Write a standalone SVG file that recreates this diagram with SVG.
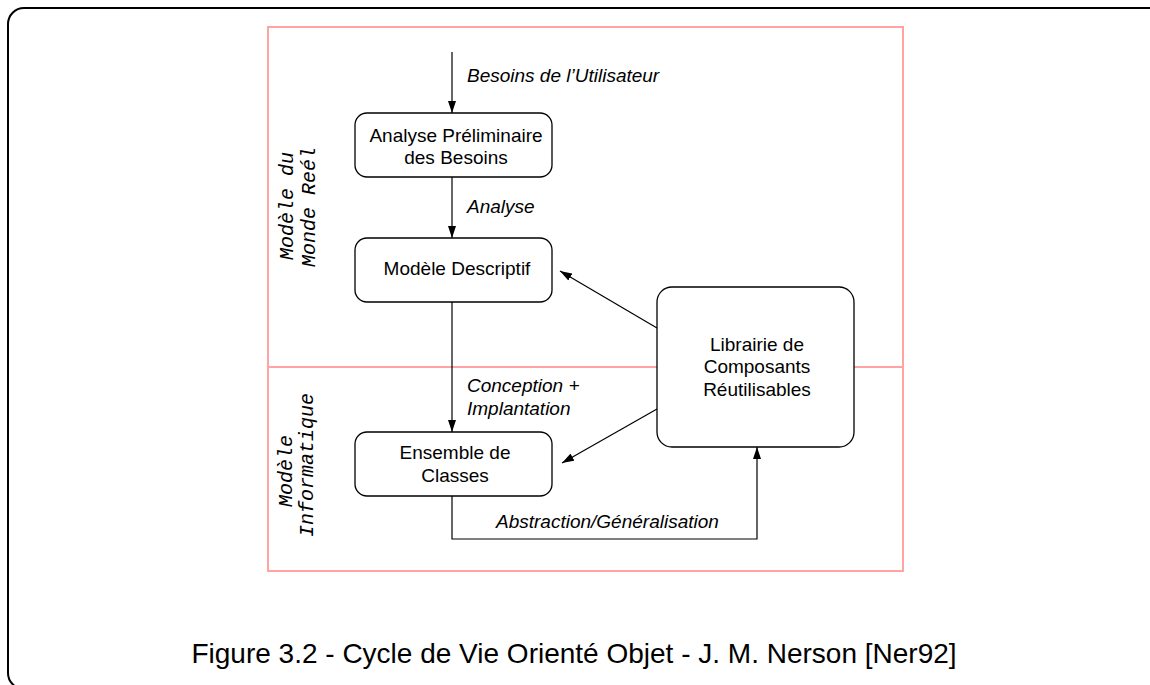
<svg xmlns="http://www.w3.org/2000/svg" width="1150" height="685" viewBox="0 0 1150 685">
  <defs>
    <marker id="ah" viewBox="0 0 12 8" refX="12" refY="4" markerWidth="12" markerHeight="8" markerUnits="userSpaceOnUse" orient="auto">
      <path d="M0,0 L12,4 L0,8 z" fill="#000"/>
    </marker>
    <style>
      .frame { fill: none; stroke: #000; stroke-width: 2; }
      .zone { fill: none; stroke: #ffa3a3; stroke-width: 2; }
      .box { fill: #fff; stroke: #000; stroke-width: 1.3; }
      .ntext { font-family: "Liberation Sans", Arial, sans-serif; font-size: 19px; fill: #000; text-anchor: middle; }
      .lbl { font-family: "Liberation Sans", Arial, sans-serif; font-size: 19px; font-style: italic; fill: #000; }
      .zlbl { font-family: "Liberation Mono", "Courier New", monospace; font-size: 20px; font-style: italic; fill: #000; }
      .cap { font-family: "Liberation Sans", Arial, sans-serif; font-size: 28px; fill: #000; text-anchor: middle; }
      .conn { fill: none; stroke: #000; stroke-width: 1.2; }
    </style>
  </defs>
  <rect width="1150" height="685" fill="#fff"/>
  <rect class="frame" x="8" y="8" width="1160" height="681" rx="16" ry="16"/>

  <g id="zones">
    <rect class="zone" x="268" y="27" width="635" height="544"/>
    <line class="zone" x1="268" y1="367" x2="903" y2="367"/>
    <text class="zlbl" transform="rotate(-90)"><tspan x="-260" y="293">Modèle du</tspan><tspan x="-267" y="315">Monde Reél</tspan></text>
    <text class="zlbl" transform="rotate(-90)"><tspan x="-507" y="292">Modèle</tspan><tspan x="-537" y="313">Informatique</tspan></text>
  </g>

  <g id="connectors">
    <line class="conn" x1="452" y1="52" x2="452" y2="113" marker-end="url(#ah)"/>
    <line class="conn" x1="452" y1="177" x2="452" y2="238" marker-end="url(#ah)"/>
    <line class="conn" x1="452" y1="302" x2="452" y2="432" marker-end="url(#ah)"/>
    <line class="conn" x1="657" y1="328" x2="560" y2="271" marker-end="url(#ah)"/>
    <line class="conn" x1="657" y1="409" x2="562" y2="463" marker-end="url(#ah)"/>
    <polyline class="conn" points="452,496 452,539 757,539 757,447" marker-end="url(#ah)"/>
    <text class="lbl" x="467" y="82">Besoins de l’Utilisateur</text>
    <text class="lbl" x="467" y="213">Analyse</text>
    <text class="lbl" x="467" y="392">Conception +</text>
    <text class="lbl" x="467" y="415">Implantation</text>
    <text class="lbl" x="496" y="528">Abstraction/Généralisation</text>
  </g>

  <g id="analyse">
    <rect class="box" x="355" y="113" width="197" height="64" rx="12"/>
    <text class="ntext" x="456" y="142">Analyse Préliminaire</text>
    <text class="ntext" x="456" y="164">des Besoins</text>
  </g>
  <g id="descriptif">
    <rect class="box" x="355" y="238" width="197" height="64" rx="12"/>
    <text class="ntext" x="457" y="275">Modèle Descriptif</text>
  </g>
  <g id="classes">
    <rect class="box" x="355" y="432" width="197" height="64" rx="12"/>
    <text class="ntext" x="455" y="459">Ensemble de</text>
    <text class="ntext" x="455" y="482">Classes</text>
  </g>
  <g id="librairie">
    <rect class="box" x="657" y="287" width="197" height="160" rx="15"/>
    <text class="ntext" x="757" y="351">Librairie de</text>
    <text class="ntext" x="757" y="373">Composants</text>
    <text class="ntext" x="757" y="396">Réutilisables</text>
  </g>

  <text class="cap" x="574" y="663">Figure 3.2 - Cycle de Vie Orienté Objet - J. M. Nerson [Ner92]</text>
</svg>
